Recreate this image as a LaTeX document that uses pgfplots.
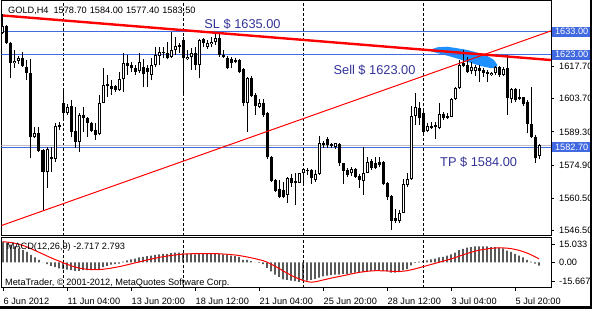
\documentclass[border=0pt]{standalone}
\usepackage{fontspec}
\setmainfont{Liberation Sans}
\usepackage{pgfplots}
\usepackage{pgfplotstable}
\pgfplotsset{compat=1.18}
\definecolor{mtblue}{RGB}{65,105,225}
\definecolor{txtblue}{RGB}{51,51,153}
\definecolor{ellblue}{RGB}{30,144,255}
\definecolor{bidgray}{RGB}{192,192,192}
\newcommand{\lab}{\fontsize{9.2pt}{11pt}\selectfont}
\newcommand{\bigf}{\fontsize{12.8pt}{14pt}\selectfont}

\pgfplotstableread{
i O H L C
0 1632.2 1640.7 1631.9 1635.4
1 1635.4 1635.9 1627.6 1628.2
2 1627.9 1628.3 1612.6 1619.5
3 1619.2 1625.0 1617.0 1620.2
4 1620.2 1622.4 1618.9 1621.3
5 1621.6 1624.2 1617.7 1618.0
6 1617.7 1620.6 1611.9 1615.1
7 1615.1 1620.9 1577.8 1586.9
8 1586.9 1591.6 1586.5 1589.0
9 1588.7 1591.3 1580.7 1581.1
10 1581.4 1581.8 1555.0 1572.0
11 1572.0 1582.9 1564.7 1581.7
12 1578.5 1582.9 1572.0 1577.3
13 1577.3 1593.3 1576.3 1591.9
14 1592.3 1593.8 1590.1 1591.6
15 1601.7 1607.8 1595.2 1597.4
16 1597.4 1601.4 1596.7 1600.3
17 1600.6 1603.2 1586.9 1589.4
18 1589.7 1600.3 1582.1 1585.0
19 1585.0 1597.4 1580.7 1596.7
20 1596.7 1600.3 1589.4 1595.2
21 1595.2 1595.9 1587.2 1593.3
22 1593.3 1593.8 1589.4 1589.8
23 1590.1 1593.0 1585.8 1587.9
24 1588.4 1605.4 1587.9 1602.0
25 1602.0 1617.0 1601.7 1609.7
26 1610.2 1614.1 1604.6 1609.3
27 1609.3 1611.9 1605.4 1607.8
28 1609.3 1609.7 1606.8 1607.5
29 1607.5 1615.5 1607.3 1612.2
30 1612.2 1623.8 1606.8 1619.2
31 1619.5 1622.8 1614.1 1618.1
32 1618.4 1619.9 1615.5 1617.0
33 1617.3 1618.4 1614.1 1615.5
34 1615.8 1623.5 1614.8 1619.9
35 1617.7 1620.9 1608.7 1614.5
36 1617.0 1618.4 1608.7 1615.5
37 1614.1 1621.3 1611.9 1618.4
38 1618.4 1626.4 1617.7 1622.8
39 1622.4 1626.4 1618.4 1624.2
40 1623.5 1626.4 1621.3 1624.2
41 1623.8 1628.6 1620.9 1621.3
42 1621.8 1633.0 1621.3 1625.0
43 1625.0 1630.8 1622.8 1626.7
44 1626.4 1627.9 1623.5 1627.2
45 1629.3 1630.5 1605.4 1621.3
46 1621.0 1625.0 1620.6 1622.1
47 1621.8 1625.7 1616.3 1623.5
48 1623.5 1626.4 1616.3 1618.4
49 1618.4 1629.6 1612.6 1629.3
50 1629.6 1630.1 1626.4 1627.9
51 1626.4 1629.3 1625.3 1627.9
52 1627.6 1630.8 1626.4 1628.6
53 1628.6 1633.0 1627.2 1630.4
54 1630.4 1633.0 1621.8 1622.8
55 1622.8 1625.0 1621.3 1621.8
56 1621.6 1622.4 1616.6 1617.0
57 1620.9 1621.8 1617.0 1619.2
58 1620.6 1621.3 1619.2 1619.9
59 1620.6 1620.9 1615.1 1615.5
60 1616.6 1617.0 1600.6 1601.7
61 1601.7 1613.4 1589.4 1612.6
62 1612.6 1613.7 1604.4 1604.9
63 1605.4 1606.1 1596.7 1600.6
64 1600.3 1603.5 1599.6 1601.7
65 1602.0 1603.5 1595.9 1596.7
66 1597.7 1598.1 1577.3 1578.2
67 1578.5 1578.8 1567.6 1568.0
68 1568.3 1568.6 1563.3 1563.7
69 1564.3 1568.3 1560.3 1561.0
70 1564.0 1567.6 1560.3 1560.8
71 1561.8 1569.8 1558.5 1569.1
72 1569.1 1571.0 1565.4 1566.9
73 1567.9 1571.3 1557.4 1566.9
74 1567.2 1571.5 1566.9 1571.5
75 1571.2 1573.4 1566.2 1573.0
76 1572.7 1573.4 1570.5 1572.4
77 1572.7 1573.0 1566.6 1569.1
78 1568.3 1572.7 1567.6 1571.0
79 1571.0 1587.5 1570.5 1584.3
80 1584.6 1585.5 1582.1 1583.6
81 1586.1 1586.9 1582.1 1583.6
82 1584.0 1584.6 1582.1 1583.1
83 1582.9 1584.6 1581.7 1584.3
84 1584.0 1584.6 1574.4 1575.6
85 1575.6 1575.9 1566.6 1572.4
86 1572.7 1573.4 1569.8 1570.5
87 1571.2 1574.1 1570.1 1573.0
88 1573.0 1573.4 1569.1 1569.8
89 1570.1 1571.0 1564.7 1568.3
90 1568.0 1582.9 1561.8 1571.5
91 1571.5 1578.5 1571.2 1576.3
92 1576.6 1577.3 1572.7 1573.4
93 1575.9 1578.2 1573.0 1573.4
94 1576.3 1578.5 1574.1 1574.9
95 1576.3 1576.6 1566.2 1566.6
96 1566.9 1567.6 1559.6 1561.1
97 1561.4 1561.8 1546.5 1550.6
98 1551.6 1555.6 1549.7 1550.6
99 1550.6 1555.3 1549.7 1554.1
100 1554.1 1568.6 1553.8 1566.6
101 1566.2 1571.3 1565.4 1568.6
102 1568.6 1600.6 1568.3 1596.2
103 1596.2 1606.4 1592.3 1600.0
104 1599.6 1602.5 1592.3 1595.2
105 1597.7 1598.5 1588.7 1589.4
106 1589.8 1593.3 1589.4 1591.9
107 1591.9 1593.8 1590.4 1590.9
108 1592.3 1593.8 1586.1 1591.3
109 1590.9 1601.7 1590.4 1597.1
110 1597.1 1598.1 1594.5 1595.2
111 1596.2 1597.4 1594.8 1595.2
112 1595.9 1603.9 1595.6 1603.5
113 1603.5 1608.7 1603.2 1608.3
114 1608.3 1620.6 1607.8 1618.4
115 1619.2 1625.0 1617.7 1618.0
116 1618.4 1622.1 1615.1 1615.5
117 1616.0 1619.9 1614.5 1617.7
118 1616.0 1618.4 1613.6 1617.7
119 1617.0 1618.4 1611.2 1616.0
120 1616.3 1617.0 1613.1 1615.1
121 1615.5 1616.3 1611.2 1614.5
122 1614.1 1615.5 1613.6 1615.1
123 1614.8 1618.0 1614.1 1617.4
124 1617.7 1618.0 1613.4 1614.1
125 1614.1 1617.7 1613.6 1616.6
126 1617.0 1622.8 1596.7 1603.9
127 1603.5 1608.3 1601.7 1607.8
128 1607.8 1608.3 1602.5 1603.2
129 1604.6 1607.8 1603.2 1603.5
130 1604.3 1604.6 1600.6 1601.4
131 1602.5 1603.2 1588.7 1592.7
132 1592.7 1609.0 1586.5 1586.9
133 1586.9 1587.9 1575.9 1577.8
134 1578.7 1584.0 1577.4 1583.5
}\candles

\pgfplotstableread{
i m s
0 17.0 16.9
1 16.0 16.6
2 14.5 16.2
3 13.0 15.6
4 11.5 14.8
5 10.0 13.8
6 8.5 12.6
7 6.0 11.2
8 4.0 9.7
9 2.0 8.2
10 0.0 6.7
11 -1.5 5.2
12 -3.0 3.7
13 -4.0 2.3
14 -5.0 1.0
15 -5.5 -0.3
16 -6.0 -1.6
17 -6.5 -2.8
18 -7.0 -3.9
19 -7.0 -4.7
20 -6.5 -5.3
21 -6.5 -5.7
22 -6.5 -5.9
23 -6.0 -6.0
24 -5.5 -5.9
25 -4.0 -5.7
26 -3.0 -5.3
27 -2.0 -4.8
28 -1.5 -4.2
29 -1.0 -3.6
30 0.5 -2.9
31 1.5 -2.1
32 2.5 -1.3
33 3.0 -0.5
34 4.0 0.3
35 4.5 1.1
36 5.0 1.9
37 5.5 2.6
38 6.0 3.3
39 6.5 4.0
40 7.0 4.6
41 7.0 5.1
42 7.5 5.6
43 8.0 6.0
44 8.0 6.4
45 7.5 6.7
46 7.0 6.9
47 7.0 7.0
48 6.5 7.1
49 7.0 7.1
50 7.5 7.2
51 7.5 7.2
52 7.5 7.2
53 7.5 7.1
54 7.0 7.0
55 6.5 6.8
56 6.0 6.6
57 5.5 6.3
58 5.0 6.0
59 4.5 5.6
60 2.0 5.0
61 2.0 4.4
62 1.0 3.7
63 0.0 3.0
64 -0.5 2.2
65 -1.5 1.4
66 -4.5 0.2
67 -7.5 -1.5
68 -10.0 -3.2
69 -12.0 -5.0
70 -14.0 -7.0
71 -14.5 -8.8
72 -15.0 -10.6
73 -15.5 -12.2
74 -16.0 -13.6
75 -15.5 -14.8
76 -15.0 -15.8
77 -14.5 -16.3
78 -13.5 -16.0
79 -12.5 -15.3
80 -11.5 -14.5
81 -11.0 -13.8
82 -10.5 -13.0
83 -10.0 -12.3
84 -10.0 -11.7
85 -9.5 -11.0
86 -9.5 -10.3
87 -9.0 -9.6
88 -8.5 -8.9
89 -8.5 -8.3
90 -8.0 -7.8
91 -7.5 -7.4
92 -7.0 -7.1
93 -6.5 -6.9
94 -6.5 -6.9
95 -7.0 -7.0
96 -7.5 -7.1
97 -8.5 -7.3
98 -8.5 -7.5
99 -8.0 -7.5
100 -6.5 -7.3
101 -5.5 -6.9
102 -2.5 -6.2
103 -0.5 -5.4
104 0.5 -4.5
105 1.0 -3.6
106 1.5 -2.7
107 2.5 -1.8
108 3.0 -0.9
109 4.0 0.0
110 4.5 0.9
111 5.5 1.8
112 6.5 2.8
113 8.0 3.8
114 10.0 5.0
115 11.0 6.1
116 12.0 7.2
117 12.5 8.2
118 13.0 9.1
119 13.0 9.9
120 13.0 10.5
121 13.0 11.0
122 12.5 11.4
123 12.5 11.7
124 12.0 11.8
125 11.5 11.8
126 9.5 11.6
127 8.5 11.2
128 7.0 10.6
129 5.5 9.8
130 4.0 8.8
131 2.0 7.6
132 0.5 6.2
133 -1.0 4.6
134 -2.717 2.793
}\macd

\begin{document}
\begin{tikzpicture}[x=1pt,y=1pt]
\useasboundingbox (0,0) rectangle (592,309);
\fill[white] (0,0) rectangle (592,309);
\begin{axis}[
 at={(1.5pt,73.5pt)}, anchor=south west, scale only axis,
 width=549.5pt, height=235pt,
 xmin=-0.375, xmax=137, ymin=1544.15, ymax=1646.54,
 axis line style={line width=1pt},
 xtick=\empty,
 ytick={1546.5,1560.5,1574.9,1589.3,1603.7,1617.7},
 ytick pos=right, yticklabel pos=right,
 tick align=outside, major tick length=3pt,
 tick style={black, line width=0.8pt},
 yticklabel style={anchor=west, inner sep=0pt, xshift=5pt, font=\lab, /pgf/number format/.cd, fixed, fixed zerofill, precision=2, 1000 sep={}, assume math mode=true},
 clip mode=individual,
 candle/.style={draw=none, mark=none, error bars/y dir=plus, error bars/y explicit, error bars/error mark=none},
]
% blue ellipse object
\addplot[fill=ellblue, draw=none] coordinates {
(107.0,1625.2) (108.6,1626.15) (111.1,1626.41) (113.6,1625.72) (116.1,1624.98)
(118.6,1623.80) (121.1,1622.36) (122.75,1620.62) (123.6,1618.44) (123.2,1617.2)
(121.9,1617.1) (119.4,1618.0) (116.9,1619.4) (114.4,1620.8) (111.9,1622.1)
(109.8,1623.1) (108.2,1623.8) (107.0,1624.4)} -- cycle;
% period separators
\foreach \s in {15,45,75,105}{
 \edef\tmp{\noexpand\addplot[black, line width=0.8pt, dash pattern=on 3pt off 2pt] coordinates {(\s,1544.15) (\s,1646.54)};}\tmp
}
% horizontal levels
\addplot[mtblue, line width=1pt] coordinates {(-0.375,1633.0) (137,1633.0)};
\addplot[mtblue, line width=1pt] coordinates {(-0.375,1623.0) (137,1623.0)};
\addplot[bidgray, line width=1pt] coordinates {(-0.375,1583.5) (137,1583.5)};
\addplot[mtblue, line width=1pt] coordinates {(-0.375,1582.7) (137,1582.7)};
% wicks
\addplot[candle, error bars/error bar style={line width=1pt, draw=black}]
  table[x=i, y=L, y error plus expr=\thisrow{H}-\thisrow{L}] {\candles};
% bear bodies
\addplot[candle, x filter/.expression={\thisrow{C}<=\thisrow{O} ? x : nan},
  error bars/error bar style={line width=3pt, draw=black}]
  table[x=i, y=C, y error plus expr={max(\thisrow{O}-\thisrow{C},0.44)}] {\candles};
% bull bodies outline
\addplot[candle, x filter/.expression={\thisrow{C}>\thisrow{O} ? x : nan},
  error bars/error bar style={line width=3pt, draw=black}]
  table[x=i, y=O, y error plus expr={\thisrow{C}-\thisrow{O}}] {\candles};
% bull bodies interior
\addplot[candle, x filter/.expression={\thisrow{C}-\thisrow{O}>0.9 ? x : nan},
  error bars/error bar style={line width=1pt, draw=white}]
  table[x=i, y expr=\thisrow{O}+0.44, y error plus expr={\thisrow{C}-\thisrow{O}-0.88}] {\candles};
% trend lines
\addplot[red, line width=1pt] coordinates {(-0.375,1548.5) (137,1633.3)};
\addplot[red, line width=2.4pt] coordinates {(0,1640.0) (137,1620.6)};
% texts
\node[anchor=west, inner sep=0pt, text=txtblue, font=\bigf] at (axis cs:50.3,1636.3) {SL \$ 1635.00};
\node[anchor=west, inner sep=0pt, text=txtblue, font=\bigf] at (axis cs:82.6,1616.3) {Sell \$ 1623.00};
\node[anchor=west, inner sep=0pt, text=txtblue, font=\bigf] at (axis cs:109.25,1576.3) {TP \$ 1584.00};
% price boxes
\node[anchor=west, fill=mtblue, text=white, font=\lab, inner sep=0pt, minimum height=10pt, minimum width=40pt, xshift=0.5pt] at (axis cs:137,1633.0) {1633.00};
\node[anchor=west, fill=mtblue, text=white, font=\lab, inner sep=0pt, minimum height=10pt, minimum width=40pt, xshift=0.5pt] at (axis cs:137,1623.0) {1623.00};
\node[anchor=west, fill=mtblue, text=white, font=\lab, inner sep=0pt, minimum height=10pt, minimum width=40pt, xshift=0.5pt] at (axis cs:137,1582.7) {1582.70};
\end{axis}

\begin{axis}[
 at={(1.5pt,21.5pt)}, anchor=south west, scale only axis,
 width=549.5pt, height=50pt,
 xmin=-0.375, xmax=137, ymin=-20.66, ymax=20.33,
 axis line style={line width=1pt},
 xtick={0,16,32,48,64,80,96,112,128},
 xticklabels={6 Jun 2012,11 Jun 04:00,13 Jun 20:00,18 Jun 12:00,21 Jun 04:00,25 Jun 20:00,28 Jun 12:00,3 Jul 04:00,5 Jul 20:00},
 xtick pos=bottom, ytick pos=right, yticklabel pos=right,
 ytick={-15.667,0,15.033}, yticklabels={-15.667,0.00,15.033},
 tick align=outside, major tick length=3.5pt,
 tick style={black, line width=0.8pt},
 xticklabel style={anchor=west, inner sep=0pt, xshift=0.5pt, yshift=-10pt, font=\lab},
 yticklabel style={anchor=west, inner sep=0pt, xshift=4.5pt, font=\lab},
 clip mode=individual,
]
\foreach \s in {15,45,75,105}{
 \edef\tmp{\noexpand\addplot[black, line width=0.8pt, dash pattern=on 3pt off 2pt] coordinates {(\s,-20.66) (\s,20.33)};}\tmp
}
\addplot[ybar, bar width=1.3pt, fill=black, draw=none] table[x=i, y=m] {\macd};
\addplot[red, line width=1pt] table[x=i, y=s] {\macd};
\end{axis}

\node[anchor=west, inner sep=0pt, font=\lab] at (8,298.5) {GOLD,H4\hspace{5pt}1578.70\hspace{3pt}1584.00\hspace{3pt}1577.40\hspace{3pt}1583.50};
\node[anchor=west, inner sep=0pt, font=\lab] at (6.7,62.3) {MACD(12,26,9) -2.717 2.793};
\node[anchor=west, inner sep=0pt, font=\lab] at (5,25.7) {MetaTrader, © 2001-2012, MetaQuotes Software Corp.};
\fill[black] (0,0) rectangle (592,3);
\fill[black] (590,0) rectangle (592,309);
\end{tikzpicture}
\end{document}
